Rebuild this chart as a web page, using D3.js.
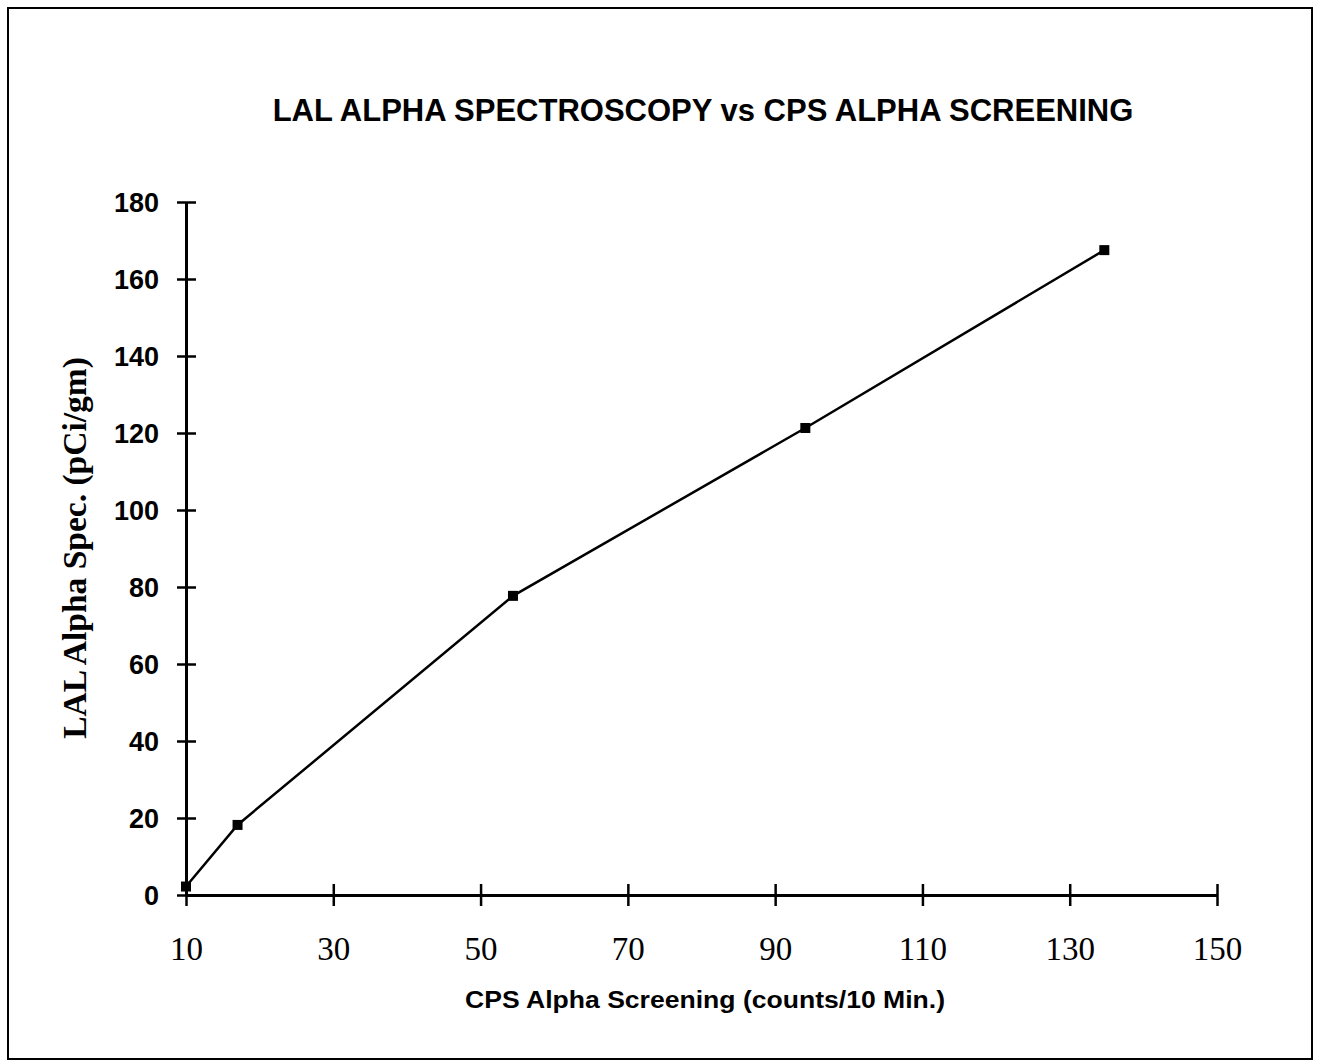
<!DOCTYPE html>
<html>
<head>
<meta charset="utf-8">
<script src="https://cdn.jsdelivr.net/npm/d3@7"></script>
<style>
  body { margin: 0; background: #fff; }
</style>
</head>
<body>
<script>
// data
const cpsCounts = [10, 17, 54.4, 94.1, 134.7];
const lalSpec = [2.2, 18.2, 77.7, 121.3, 167.5];
const xTicks = [10, 30, 50, 70, 90, 110, 130, 150];
const yTicks = [0, 20, 40, 60, 80, 100, 120, 140, 160, 180];

const W = 1320, H = 1062;
const svg = d3.select('body').append('svg')
  .attr('width', W)
  .attr('height', H);

// outer frame
svg.append('rect')
  .attr('x', 8).attr('y', 8)
  .attr('width', 1304).attr('height', 1051)
  .attr('fill', 'none')
  .attr('stroke', '#000')
  .attr('stroke-width', 2);

const x = d3.scaleLinear().domain([10, 150]).range([186, 1217]);
const y = d3.scaleLinear().domain([0, 180]).range([895, 202]);

// x axis: ticks cross the line
const xAxis = svg.append('g').attr('transform', 'translate(0,' + y(0) + ')')
  .call(d3.axisBottom(x).tickValues(xTicks).tickSize(0).tickPadding(0).tickFormat(''));
xAxis.select('.domain').attr('stroke-width', 3);
xAxis.selectAll('.tick line')
  .attr('y1', -11).attr('y2', 11)
  .attr('stroke-width', 2.5);
xAxis.selectAll('.tick').append('text')
  .attr('y', 65)
  .attr('fill', '#000')
  .attr('font-family', '"Liberation Serif", "Times New Roman", serif')
  .attr('font-size', 33)
  .attr('text-anchor', 'middle')
  .text(d => d);

// y axis
const yAxis = svg.append('g').attr('transform', 'translate(' + x(10) + ',0)')
  .call(d3.axisLeft(y).tickValues(yTicks).tickSize(0).tickPadding(0).tickFormat(''));
yAxis.select('.domain').attr('stroke-width', 3);
yAxis.selectAll('.tick line')
  .attr('x1', -9).attr('x2', 10)
  .attr('stroke-width', 2.5);
yAxis.selectAll('.tick').append('text')
  .attr('x', -27)
  .attr('dy', '0.36em')
  .attr('fill', '#000')
  .attr('font-family', '"Liberation Sans", Arial, sans-serif')
  .attr('font-weight', 'bold')
  .attr('font-size', 27)
  .text(d => d)
  .attr('text-anchor', 'end');

// series
const pts = cpsCounts.map((c, i) => [c, lalSpec[i]]);
svg.append('path')
  .datum(pts)
  .attr('fill', 'none')
  .attr('stroke', '#000')
  .attr('stroke-width', 2.5)
  .attr('d', d3.line().x(d => x(d[0])).y(d => y(d[1])));

svg.selectAll('rect.pt')
  .data(pts)
  .enter()
  .append('rect')
  .attr('class', 'pt')
  .attr('x', d => x(d[0]) - 5)
  .attr('y', d => y(d[1]) - 5)
  .attr('width', 10).attr('height', 10)
  .attr('fill', '#000');

// titles
svg.append('text')
  .attr('x', 703).attr('y', 121)
  .attr('text-anchor', 'middle')
  .attr('font-family', '"Liberation Sans", Arial, sans-serif')
  .attr('font-weight', 'bold')
  .attr('font-size', 31)
  .text('LAL ALPHA SPECTROSCOPY vs CPS ALPHA SCREENING');

svg.append('text')
  .attr('x', 705).attr('y', 1008)
  .attr('text-anchor', 'middle')
  .attr('font-family', '"Liberation Sans", Arial, sans-serif')
  .attr('font-weight', 'bold')
  .attr('font-size', 23)
  .attr('textLength', 480)
  .attr('lengthAdjust', 'spacingAndGlyphs')
  .text('CPS Alpha Screening (counts/10 Min.)');

svg.append('text')
  .attr('transform', 'translate(86,548) rotate(-90)')
  .attr('text-anchor', 'middle')
  .attr('font-family', '"Liberation Serif", "Times New Roman", serif')
  .attr('font-weight', 'bold')
  .attr('font-size', 33.5)
  .text('LAL Alpha Spec. (pCi/gm)');
</script>
</body>
</html>
